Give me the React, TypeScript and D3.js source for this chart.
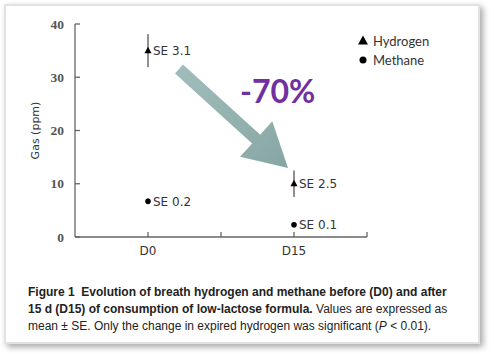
import { scaleLinear } from 'd3';

const width = 494;
const height = 360;

// chart values
const days = ['D0', 'D15'];
const dayPos = [1, 3];
const hydrogen = [35, 10];
const hydrogenSE = [3.1, 2.5];
const methane = [6.7, 2.3];
const methaneSE = [0.2, 0.1];
const yTicks = [0, 10, 20, 30, 40];
const xTicks = [1, 2, 3, 4];
const seLabelsH = ['SE 3.1', 'SE 2.5'];
const seLabelsM = ['SE 0.2', 'SE 0.1'];

const xScale = scaleLinear().domain([0, 4]).range([75, 367]);
const yScale = scaleLinear().domain([0, 40]).range([237, 24]);

const sans = "'DejaVu Sans', Verdana, sans-serif";
const capFont = "'Liberation Sans', Arial, sans-serif";

const tri = (cx: number, cy: number, s: number) =>
	`M${cx},${cy - s * 0.6} L${cx + s * 0.55},${cy + s * 0.4} L${cx - s * 0.55},${cy + s * 0.4} Z`;

// big annotation arrow
const arrowPath = () => {
	const T = [179, 69];
	const P = [288, 168];
	const dx = P[0] - T[0];
	const dy = P[1] - T[1];
	const len = Math.hypot(dx, dy);
	const u = [dx / len, dy / len];
	const n = [-u[1], u[0]];
	const B = [P[0] - 43 * u[0], P[1] - 43 * u[1]];
	const pt = (b: number[], k: number) => `${b[0] + k * n[0]},${b[1] + k * n[1]}`;
	return `M${pt(T, 6)} L${pt(B, 6)} L${pt(B, 24)} L${P[0]},${P[1]} L${pt(B, -24)} L${pt(B, -6)} L${pt(T, -6)} Z`;
};

const App = () => (
	<svg
		width={width}
		height={height}
		style={{ position: 'absolute', left: 0, top: 0, background: '#fff' }}
	>
		<defs>
			<filter id="shadow" x="-5%" y="-5%" width="115%" height="115%">
				<feDropShadow dx="3" dy="3" stdDeviation="3" floodColor="#000" floodOpacity="0.35" />
			</filter>
			<linearGradient id="arrowGrad" x1="0" y1="0" x2="1" y2="1">
				<stop offset="0%" stopColor="#a2bebc" />
				<stop offset="100%" stopColor="#86a6a4" />
			</linearGradient>
		</defs>
		<rect x={5} y={5} width={474} height={338} fill="#fff" stroke="#e2e2e2" strokeWidth={2} filter="url(#shadow)" />

		{/* axes */}
		<g stroke="#666" strokeWidth={1.3} fill="none">
			<line x1={xScale(0)} x2={xScale(0)} y1={yScale(40)} y2={yScale(0)} />
			<line x1={xScale(0)} x2={xScale(4)} y1={yScale(0)} y2={yScale(0)} />
			{yTicks.map(t => (
				<line key={t} x1={xScale(0)} x2={xScale(0) + 5} y1={yScale(t)} y2={yScale(t)} />
			))}
			{xTicks.map(t => (
				<line key={t} x1={xScale(t)} x2={xScale(t)} y1={yScale(0)} y2={yScale(0) - 5} />
			))}
		</g>
		{yTicks.map(t => (
			<text
				key={t}
				x={xScale(0) - 11}
				y={yScale(t)}
				dy=".35em"
				textAnchor="end"
				fontFamily="'Liberation Serif', serif"
				fontWeight="bold"
				fontSize={13.5}
				fill="#555"
			>
				{t}
			</text>
		))}
		{days.map((d, i) => (
			<text key={d} x={xScale(dayPos[i])} y={255} textAnchor="middle" fontFamily={sans} fontSize={12} fill="#333">
				{d}
			</text>
		))}
		<text
			transform={`translate(39,${(yScale(0) + yScale(40)) / 2}) rotate(-90)`}
			textAnchor="middle"
			fontFamily={sans}
			fontSize={11}
			fill="#333"
		>
			Gas (ppm)
		</text>

		{/* hydrogen */}
		{hydrogen.map((v, i) => (
			<g key={'h' + i}>
				<line
					x1={xScale(dayPos[i])}
					x2={xScale(dayPos[i])}
					y1={yScale(v + hydrogenSE[i])}
					y2={yScale(v - hydrogenSE[i])}
					stroke="#222"
					strokeWidth={1}
				/>
				<path d={tri(xScale(dayPos[i]), yScale(v), 6.5)} fill="#000" />
				<text x={xScale(dayPos[i]) + 5} y={yScale(v)} dy=".35em" fontFamily={sans} fontSize={12} fill="#333">
					{seLabelsH[i]}
				</text>
			</g>
		))}
		{/* methane */}
		{methane.map((v, i) => (
			<g key={'m' + i}>
				<line
					x1={xScale(dayPos[i])}
					x2={xScale(dayPos[i])}
					y1={yScale(v + methaneSE[i]) - 2}
					y2={yScale(v - methaneSE[i]) + 2}
					stroke="#222"
					strokeWidth={1}
				/>
				<circle cx={xScale(dayPos[i])} cy={yScale(v)} r={2.8} fill="#000" />
				<text x={xScale(dayPos[i]) + 5} y={yScale(v)} dy=".35em" fontFamily={sans} fontSize={12} fill="#333">
					{seLabelsM[i]}
				</text>
			</g>
		))}

		{/* legend */}
		<path d={tri(363, 41, 9)} fill="#000" />
		<text x={373} y={41} dy=".35em" fontFamily="Lato, sans-serif" fontSize={13} fill="#333">
			Hydrogen
		</text>
		<circle cx={363} cy={60} r={3.5} fill="#000" />
		<text x={373} y={60} dy=".35em" fontFamily="Lato, sans-serif" fontSize={13} fill="#333">
			Methane
		</text>

		{/* annotation */}
		<path d={arrowPath()} fill="url(#arrowGrad)" />
		<text x={240} y={103} fontFamily="Lato, sans-serif" fontWeight="bold" fontSize={32} fill="#7030a0">
			-70%
		</text>

		{/* caption */}
		<g fontFamily={capFont} fontSize={12} fill="#222">
			<text x={28} y={296} fontWeight="bold" style={{ whiteSpace: 'pre' }}>
				{'Figure 1  Evolution of breath hydrogen and methane before (D0) and after'}
			</text>
			<text x={28} y={313}>
				<tspan fontWeight="bold">15 d (D15) of consumption of low-lactose formula.</tspan>
				<tspan> Values are expressed as</tspan>
			</text>
			<text x={28} y={330}>
				mean ± SE. Only the change in expired hydrogen was significant (<tspan fontStyle="italic">P</tspan> &lt; 0.01).
			</text>
		</g>
	</svg>
);

export default App;
